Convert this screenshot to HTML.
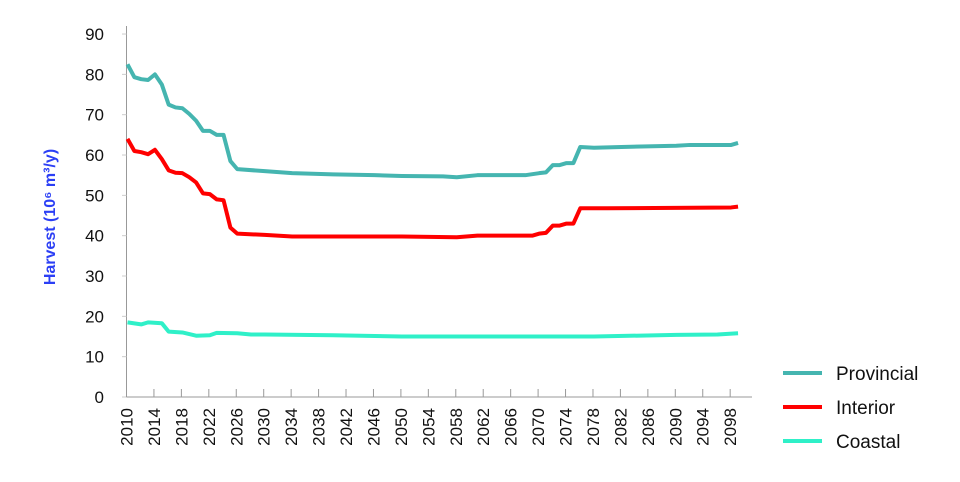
<!DOCTYPE html>
<html><head><meta charset="utf-8"><style>
body{margin:0;background:#fff;}
svg{display:block;font-family:"Liberation Sans",sans-serif;}
</style></head><body>
<svg id="c" width="960" height="482" xmlns="http://www.w3.org/2000/svg">
<g id="g"></g>
<text transform="translate(55,217) rotate(-90)" text-anchor="middle" font-size="16" font-weight="bold" fill="#2b3ff5">Harvest (10⁶ m³/y)</text>
<line x1="783" y1="373" x2="822" y2="373" stroke="#45b5b0" stroke-width="4"/>
<line x1="783" y1="407" x2="822" y2="407" stroke="#ff0000" stroke-width="4"/>
<line x1="783" y1="441" x2="822" y2="441" stroke="#2ff0c8" stroke-width="4"/>
<text x="836" y="380" font-size="19" fill="#111">Provincial</text>
<text x="836" y="414" font-size="19" fill="#111">Interior</text>
<text x="836" y="448" font-size="19" fill="#111">Coastal</text>
</svg>
<script>
var g=document.getElementById('g'),h='';
function X(y){return 127.5+(y-2010)*6.86;}
function Y(v){return 397-v*4.033;}
h+='<line x1="126.5" y1="26" x2="126.5" y2="397" stroke="#999" stroke-width="1"/>';
h+='<line x1="126.5" y1="397" x2="752" y2="397" stroke="#999" stroke-width="1"/>';
for(var v=0;v<=90;v+=10){var y=Y(v);h+='<line x1="122" y1="'+y+'" x2="126.5" y2="'+y+'" stroke="#ccc"/>';
h+='<text x="104" y="'+(y+6)+'" text-anchor="end" font-size="17" fill="#111">'+v+'</text>';}
for(var yr=2010;yr<=2098;yr+=4){var x=126.5+(yr-2010)*6.86;h+='<line x1="'+x+'" y1="389" x2="'+x+'" y2="397" stroke="#999"/>';
h+='<text transform="translate('+(x+6)+',408) rotate(-90)" text-anchor="end" font-size="17" fill="#111">'+yr+'</text>';}
var P=[[2010,82.5],[2011,79.3],[2012,78.8],[2013,78.6],[2014,80],[2015,77.5],[2016,72.5],[2017,71.8],[2018,71.6],[2019,70.2],[2020,68.5],[2021,66],[2022,66],[2023,65],[2024,65],[2025,58.5],[2026,56.5],[2030,56],[2034,55.5],[2040,55.2],[2046,55],[2050,54.8],[2056,54.7],[2058,54.5],[2061,55],[2068,55],[2070,55.5],[2071,55.7],[2072,57.5],[2073,57.5],[2074,58],[2075,58],[2076,62],[2078,61.8],[2082,62],[2090,62.3],[2092,62.5],[2098,62.5],[2099,63]];
var I=[[2010,64],[2011,61],[2012,60.7],[2013,60.2],[2014,61.3],[2015,59],[2016,56.2],[2017,55.6],[2018,55.5],[2019,54.5],[2020,53.2],[2021,50.5],[2022,50.3],[2023,49],[2024,48.8],[2025,42],[2026,40.5],[2030,40.2],[2034,39.8],[2050,39.8],[2058,39.6],[2061,40],[2069,40],[2070,40.5],[2071,40.7],[2072,42.5],[2073,42.5],[2074,43],[2075,43],[2076,46.8],[2080,46.8],[2098,47],[2099,47.2]];
var C=[[2010,18.5],[2012,18],[2013,18.5],[2015,18.3],[2016,16.2],[2018,16],[2020,15.2],[2022,15.3],[2023,15.9],[2026,15.8],[2028,15.5],[2030,15.5],[2040,15.3],[2050,15],[2060,15],[2078,15],[2090,15.4],[2096,15.5],[2099,15.8]];
function pl(d,c){return '<polyline fill="none" stroke="'+c+'" stroke-width="4" stroke-linejoin="round" points="'+d.map(function(p){return X(p[0])+','+Y(p[1]);}).join(' ')+'"/>';}
h+=pl(C,'#2ff0c8')+pl(I,'#ff0000')+pl(P,'#45b5b0');
g.innerHTML=h;
</script>
</body></html>
